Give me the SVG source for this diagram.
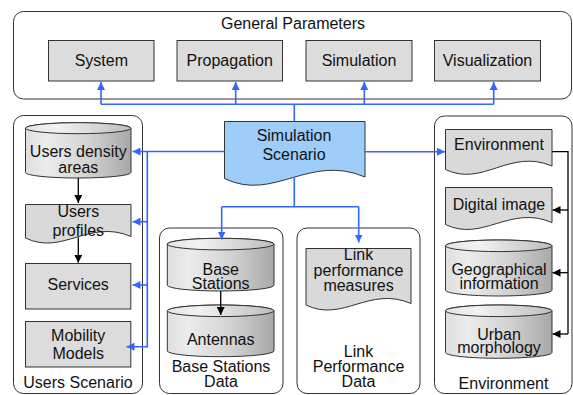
<svg xmlns="http://www.w3.org/2000/svg" width="573" height="395" viewBox="0 0 573 395">
  <style>
    text { font-family: "Liberation Sans", Arial, sans-serif; font-size: 16px; fill: #111; text-anchor: middle; }
    .frame { fill: #fff; stroke: #333; stroke-width: 1; }
    .box { fill: #dcdcdc; stroke: #333; stroke-width: 1; }
    .doc { fill: #d9d9d9; stroke: #333; stroke-width: 1; }
    .cyl { fill: url(#cylBody); stroke: #333; stroke-width: 1; }
    .cyltop { fill: url(#cylTop); stroke: #333; stroke-width: 1; }
    .scen { fill: #9fcdf9; stroke: #333; stroke-width: 1; }
    .blue { fill: none; stroke: #3366ff; stroke-width: 1.6; }
    .blk { fill: none; stroke: #000; stroke-width: 1.3; }
  </style>
  <defs>
    <linearGradient id="cylBody" x1="0" y1="0" x2="1" y2="0">
      <stop offset="0" stop-color="#dedede"/>
      <stop offset="0.2" stop-color="#ececec"/>
      <stop offset="0.6" stop-color="#d2d2d2"/>
      <stop offset="1" stop-color="#a8a8a8"/>
    </linearGradient>
    <linearGradient id="cylTop" x1="0" y1="0" x2="1" y2="0">
      <stop offset="0" stop-color="#e4e4e4"/>
      <stop offset="0.3" stop-color="#f2f2f2"/>
      <stop offset="1" stop-color="#bdbdbd"/>
    </linearGradient>
    <marker id="ab" viewBox="0 0 8 8" refX="8" refY="4" markerWidth="8" markerHeight="8" markerUnits="userSpaceOnUse" orient="auto">
      <path d="M0,0 L8,4 L0,8 z" fill="#3366ff"/>
    </marker>
    <marker id="ak" viewBox="0 0 8 8" refX="8" refY="4" markerWidth="8" markerHeight="8" markerUnits="userSpaceOnUse" orient="auto">
      <path d="M0,0 L8,4 L0,8 z" fill="#000"/>
    </marker>
  </defs>

  <!-- container frames -->
  <g id="general-parameters">
    <rect class="frame" x="13.5" y="11.5" width="558" height="87.5" rx="10"/>
    <text x="293" y="29">General Parameters</text>
  </g>
  <g id="users-scenario">
    <rect class="frame" x="13.5" y="115.5" width="129" height="278" rx="10"/>
    <text x="78" y="388">Users Scenario</text>
  </g>
  <g id="base-stations-data">
    <rect class="frame" x="159.5" y="228" width="123.5" height="165.5" rx="10"/>
    <text x="221" y="371.5">Base Stations</text>
    <text x="221" y="387">Data</text>
  </g>
  <g id="link-performance-data">
    <rect class="frame" x="297" y="228" width="123" height="165.5" rx="10"/>
    <text x="358.5" y="357">Link</text>
    <text x="358.5" y="372">Performance</text>
    <text x="358.5" y="387">Data</text>
  </g>
  <g id="environment">
    <rect class="frame" x="434.5" y="116" width="137.5" height="277.5" rx="10"/>
    <text x="503.5" y="389">Environment</text>
  </g>

  <!-- parameter boxes -->
  <g id="system">
    <rect class="box" x="48.5" y="40.5" width="105.5" height="40.5"/>
    <text x="101.3" y="66">System</text>
  </g>
  <g id="propagation">
    <rect class="box" x="177" y="40.5" width="105.5" height="40.5"/>
    <text x="229.7" y="66">Propagation</text>
  </g>
  <g id="simulation">
    <rect class="box" x="306" y="40.5" width="106" height="40.5"/>
    <text x="359" y="66">Simulation</text>
  </g>
  <g id="visualization">
    <rect class="box" x="434.5" y="40.5" width="106" height="40.5"/>
    <text x="487.5" y="66">Visualization</text>
  </g>

  <!-- central document -->
  <g id="simulation-scenario">
    <path class="scen" d="M224.5,121.5 H365 V177 C309,153 273.7,202.5 224.5,178.5 Z"/>
    <text x="294" y="140.5">Simulation</text>
    <text x="294" y="160">Scenario</text>
  </g>

  <!-- users scenario contents -->
  <g id="users-density-areas">
    <path class="cyl" d="M25.5,128.2 V172.5 A52.75,5.5 0 0 0 131,172.5 V128.2 A52.75,5.5 0 0 0 25.5,128.2 Z"/>
    <ellipse class="cyltop" cx="78.25" cy="128.2" rx="52.75" ry="5.5"/>
    <text x="78.3" y="157">Users density</text>
    <text x="78.3" y="172.5">areas</text>
  </g>
  <g id="users-profiles">
    <path class="doc" d="M25.5,204.5 H131 V236.5 C89,218.5 62.5,256 25.5,238 Z"/>
    <text x="78.3" y="216.5">Users</text>
    <text x="78.3" y="236">profiles</text>
  </g>
  <g id="services">
    <rect class="box" x="25.5" y="263.5" width="105.3" height="45.5"/>
    <text x="78.2" y="290">Services</text>
  </g>
  <g id="mobility-models">
    <rect class="box" x="25.5" y="321.5" width="105.3" height="45.5"/>
    <text x="78.2" y="340.5">Mobility</text>
    <text x="78.2" y="359">Models</text>
  </g>

  <!-- base stations data contents -->
  <g id="base-stations">
    <path class="cyl" d="M167.3,244.1 V285.2 A53.35,5.8 0 0 0 274,285.2 V244.1 A53.35,5.8 0 0 0 167.3,244.1 Z"/>
    <ellipse class="cyltop" cx="220.65" cy="244.1" rx="53.35" ry="5.8"/>
    <text x="220.7" y="274.5">Base</text>
    <text x="220.7" y="289">Stations</text>
  </g>
  <g id="antennas">
    <path class="cyl" d="M167.3,310.8 V350.9 A53.35,5.8 0 0 0 274,350.9 V310.8 A53.35,5.8 0 0 0 167.3,310.8 Z"/>
    <ellipse class="cyltop" cx="220.65" cy="310.8" rx="53.35" ry="5.8"/>
    <text x="220.7" y="345">Antennas</text>
  </g>

  <!-- link performance contents -->
  <g id="link-performance-measures">
    <path class="doc" d="M306,248.5 H411 V303.5 C369,285.5 342.8,323 306,305 Z"/>
    <text x="358.5" y="260">Link</text>
    <text x="358.5" y="275.5">performance</text>
    <text x="358.5" y="290.5">measures</text>
  </g>

  <!-- environment contents -->
  <g id="environment-doc">
    <path class="doc" d="M445.5,129.5 H552 V166 C509.4,148 482.8,187.5 445.5,169.5 Z"/>
    <text x="499" y="150">Environment</text>
  </g>
  <g id="digital-image">
    <path class="doc" d="M445.5,187.5 H552 V222.5 C509.4,204.5 482.8,242.5 445.5,224.5 Z"/>
    <text x="499" y="210">Digital image</text>
  </g>
  <g id="geographical-information">
    <path class="cyl" d="M445.5,245.8 V290.2 A53.25,5.8 0 0 0 552,290.2 V245.8 A53.25,5.8 0 0 0 445.5,245.8 Z"/>
    <ellipse class="cyltop" cx="498.75" cy="245.8" rx="53.25" ry="5.8"/>
    <text x="499" y="275">Geographical</text>
    <text x="499" y="288.5">information</text>
  </g>
  <g id="urban-morphology">
    <path class="cyl" d="M445.5,310.8 V352.5 A53.25,5.8 0 0 0 552,352.5 V310.8 A53.25,5.8 0 0 0 445.5,310.8 Z"/>
    <ellipse class="cyltop" cx="498.75" cy="310.8" rx="53.25" ry="5.8"/>
    <text x="499" y="339.5">Urban</text>
    <text x="499" y="353">morphology</text>
  </g>

  <!-- connectors -->
  <g id="connectors">
    <!-- scenario to general parameters -->
    <path class="blue" d="M294.3,121.5 V104.3 M101,104.3 H493.7"/>
    <path class="blue" marker-end="url(#ab)" d="M101,104.3 V82"/>
    <path class="blue" marker-end="url(#ab)" d="M235.7,104.3 V82"/>
    <path class="blue" marker-end="url(#ab)" d="M364.3,104.3 V82"/>
    <path class="blue" marker-end="url(#ab)" d="M493.7,104.3 V82"/>
    <!-- scenario to users scenario -->
    <path class="blue" marker-end="url(#ab)" d="M224.5,151.5 H132.5"/>
    <path class="blue" marker-end="url(#ab)" d="M147.3,151.5 V346.7 H126.5"/>
    <path class="blue" marker-end="url(#ab)" d="M147.3,221.7 H132.5"/>
    <path class="blue" marker-end="url(#ab)" d="M147.3,285 H132.5"/>
    <!-- scenario to environment -->
    <path class="blue" marker-end="url(#ab)" d="M365,151.7 H445"/>
    <!-- scenario to data blocks -->
    <path class="blue" d="M294.3,177.7 V206.7 M221.7,206.7 H358.7"/>
    <path class="blue" marker-end="url(#ab)" d="M221.7,206.7 V239.5"/>
    <path class="blue" marker-end="url(#ab)" d="M358.7,206.7 V242.5"/>
    <!-- internal flows -->
    <path class="blk" marker-end="url(#ak)" d="M78.3,178 V203"/>
    <path class="blk" marker-end="url(#ak)" d="M78.3,237.3 V262.8"/>
    <path class="blk" marker-end="url(#ak)" d="M220.7,291 V315"/>
    <path class="blk" d="M552,151.7 H568 V334"/>
    <path class="blk" marker-end="url(#ak)" d="M568,210 H552.5"/>
    <path class="blk" marker-end="url(#ak)" d="M568,272.7 H552.5"/>
    <path class="blk" marker-end="url(#ak)" d="M568,334 H552.5"/>
  </g>
</svg>
